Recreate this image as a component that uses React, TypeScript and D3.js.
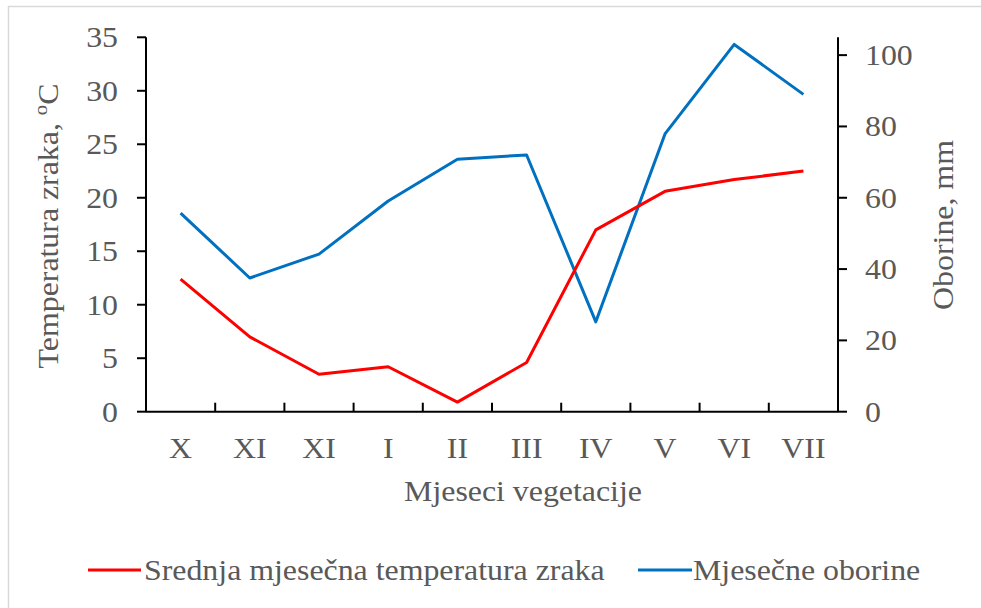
import * as d3 from 'd3'

const width = 981
const height = 608

const months = ['X', 'XI', 'XI', 'I', 'II', 'III', 'IV', 'V', 'VI', 'VII']
const temperature = [12.4, 7.0, 3.5, 4.2, 0.9, 4.6, 17.0, 20.6, 21.7, 22.5]
const precipitation = [55.7, 37.5, 44.2, 59.1, 70.8, 72.0, 25.2, 77.9, 103.0, 89.0]
const leftTicks = [0, 5, 10, 15, 20, 25, 30, 35]
const rightTicks = [0, 20, 40, 60, 80, 100]

const plot = { left: 146, right: 838, top: 37.3, bottom: 411.7 }

const textColor = '#595959'
const font = '"Liberation Serif", "Times New Roman", serif'
const fs = 29.5
const sx = 1.08

function App() {
  const x = d3.scaleBand<number>()
    .domain(d3.range(months.length))
    .range([plot.left, plot.right])
    .paddingInner(0)
    .paddingOuter(0)
  const yLeft = d3.scaleLinear().domain([0, 35]).range([plot.bottom, plot.top])
  const yRight = d3.scaleLinear().domain([0, 105]).range([plot.bottom, plot.top])

  const cx = (i: number) => (x(i) ?? 0) + x.bandwidth() / 2

  const tempLine = d3.line<number>()
    .x((_, i) => cx(i))
    .y(d => yLeft(d))
  const rainLine = d3.line<number>()
    .x((_, i) => cx(i))
    .y(d => yRight(d))

  const label = (tx: number, ty: number, txt: string, anchor: string) => (
    <text
      transform={`translate(${tx},${ty}) scale(${sx},1)`}
      textAnchor={anchor}
      fontFamily={font}
      fontSize={fs}
      fill={textColor}
    >{txt}</text>
  )

  return (
    <svg width={width} height={height} style={{ position: 'absolute', left: 0, top: 0 }}>
      <rect x={0} y={0} width={width} height={height} fill="white" />
      <rect x={8.5} y={6.5} width={width + 10} height={height + 10} fill="white" stroke="#d9d9d9" strokeWidth={1.5} />

      {/* left axis */}
      <line x1={plot.left} x2={plot.left} y1={plot.top} y2={plot.bottom} stroke="black" strokeWidth={2} />
      {leftTicks.map(t => (
        <g key={'l' + t}>
          <line x1={plot.left - 9} x2={plot.left} y1={yLeft(t)} y2={yLeft(t)} stroke="black" strokeWidth={2} />
          {label(118, yLeft(t) + 10, String(t), 'end')}
        </g>
      ))}

      {/* right axis */}
      <line x1={plot.right} x2={plot.right} y1={plot.top} y2={plot.bottom} stroke="black" strokeWidth={2} />
      {rightTicks.map(t => (
        <g key={'r' + t}>
          <line x1={plot.right} x2={plot.right + 9} y1={yRight(t)} y2={yRight(t)} stroke="black" strokeWidth={2} />
          {label(865, yRight(t) + 10, String(t), 'start')}
        </g>
      ))}

      {/* x axis */}
      <line x1={plot.left} x2={plot.right} y1={plot.bottom} y2={plot.bottom} stroke="black" strokeWidth={2} />
      {months.map((m, i) => (
        <g key={'x' + i}>
          {i > 0 && (
            <line x1={x(i)} x2={x(i)} y1={plot.bottom - 9} y2={plot.bottom} stroke="black" strokeWidth={2} />
          )}
          {label(cx(i), 458, m, 'middle')}
        </g>
      ))}

      {/* axis titles */}
      {label(523, 501, 'Mjeseci vegetacije', 'middle')}
      <text
        transform={`translate(58,226) rotate(-90) scale(${sx},1)`}
        textAnchor="middle"
        fontFamily={font}
        fontSize={fs}
        fill={textColor}
      >
        Temperatura zraka, <tspan fontSize={fs * 0.65} dy={-11}>o</tspan><tspan dy={11}>C</tspan>
      </text>
      <text
        transform={`translate(953,225) rotate(-90) scale(${sx},1)`}
        textAnchor="middle"
        fontFamily={font}
        fontSize={fs}
        fill={textColor}
      >Oborine, mm</text>

      {/* series */}
      <path d={rainLine(precipitation) ?? ''} fill="none" stroke="#0070C0" strokeWidth={3} strokeLinejoin="round" />
      <path d={tempLine(temperature) ?? ''} fill="none" stroke="#FF0000" strokeWidth={3} strokeLinejoin="round" />

      {/* legend */}
      <line x1={88} x2={141} y1={570} y2={570} stroke="#FF0000" strokeWidth={3} />
      {label(144, 580, 'Srednja mjesečna temperatura zraka', 'start')}
      <line x1={638} x2={692} y1={570} y2={570} stroke="#0070C0" strokeWidth={3} />
      {label(693, 580, 'Mjesečne oborine', 'start')}
    </svg>
  )
}

export default App
